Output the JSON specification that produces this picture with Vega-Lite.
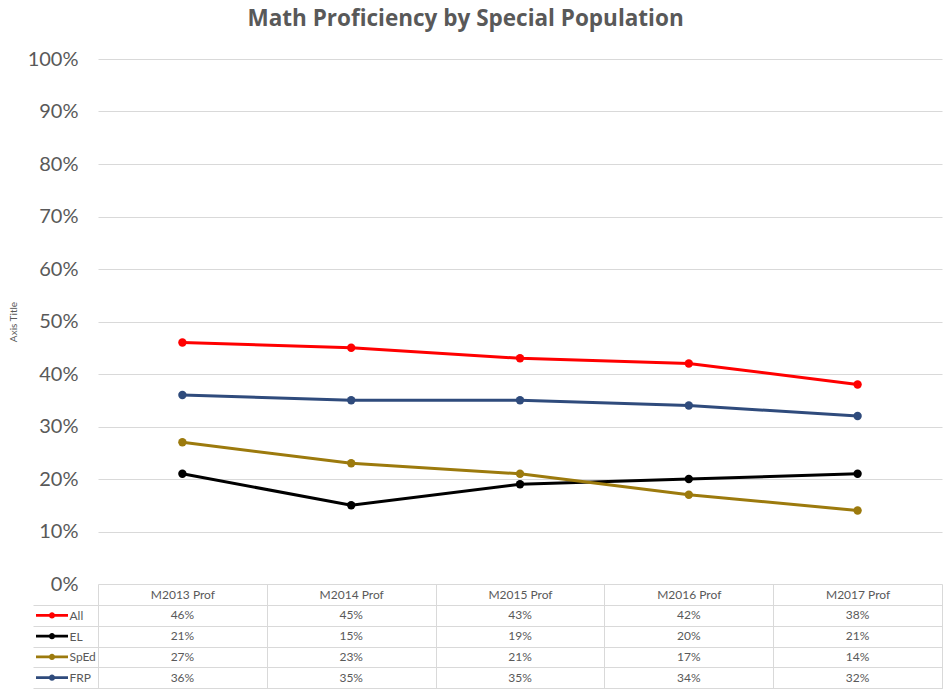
{
  "$schema": "https://vega.github.io/schema/vega-lite/v6.json",
  "padding": {"left": 8, "top": 8, "right": 0, "bottom": 0},
  "background": "white",
  "title": {"text": "Math Proficiency by Special Population", "fontSize": 22.5, "font": "Open Sans", "fontWeight": "bold", "color": "#595959", "anchor": "middle", "frame": "bounds", "offset": 18.5, "dx": -10},
  "config": {"font": "Lato", "view": {"stroke": null}},
  "data": {"values": [
    {"series": "All", "year": "M2013 Prof", "value": 0.46},
    {"series": "All", "year": "M2014 Prof", "value": 0.45},
    {"series": "All", "year": "M2015 Prof", "value": 0.43},
    {"series": "All", "year": "M2016 Prof", "value": 0.42},
    {"series": "All", "year": "M2017 Prof", "value": 0.38},
    {"series": "EL", "year": "M2013 Prof", "value": 0.21},
    {"series": "EL", "year": "M2014 Prof", "value": 0.15},
    {"series": "EL", "year": "M2015 Prof", "value": 0.19},
    {"series": "EL", "year": "M2016 Prof", "value": 0.20},
    {"series": "EL", "year": "M2017 Prof", "value": 0.21},
    {"series": "SpEd", "year": "M2013 Prof", "value": 0.27},
    {"series": "SpEd", "year": "M2014 Prof", "value": 0.23},
    {"series": "SpEd", "year": "M2015 Prof", "value": 0.21},
    {"series": "SpEd", "year": "M2016 Prof", "value": 0.17},
    {"series": "SpEd", "year": "M2017 Prof", "value": 0.14},
    {"series": "FRP", "year": "M2013 Prof", "value": 0.36},
    {"series": "FRP", "year": "M2014 Prof", "value": 0.35},
    {"series": "FRP", "year": "M2015 Prof", "value": 0.35},
    {"series": "FRP", "year": "M2016 Prof", "value": 0.34},
    {"series": "FRP", "year": "M2017 Prof", "value": 0.32}
  ]},
  "spacing": 21,
  "bounds": "flush",
  "resolve": {"scale": {"y": "independent", "x": "shared", "color": "shared"}, "axis": {"x": "independent", "y": "independent"}},
  "vconcat": [
    {
      "width": 844,
      "height": 525,
      "mark": {"type": "line", "strokeWidth": 3, "point": {"filled": true, "size": 70}},
      "encoding": {
        "x": {"field": "year", "type": "nominal", "sort": ["M2013 Prof", "M2014 Prof", "M2015 Prof", "M2016 Prof", "M2017 Prof"], "scale": {"type": "band", "paddingInner": 0, "paddingOuter": 0}, "axis": null},
        "y": {"field": "value", "type": "quantitative", "scale": {"domain": [0, 1], "nice": false},
          "axis": {"values": [0, 0.1, 0.2, 0.3, 0.4, 0.5, 0.6, 0.7, 0.8, 0.9, 1], "format": ".0%", "grid": true, "gridColor": "#d9d9d9", "domain": false, "ticks": false, "labelFontSize": 20, "labelColor": "#595959", "labelPadding": 20, "title": "Axis Title", "titleFontSize": 10, "titleFontWeight": "normal", "titleColor": "#595959", "titlePadding": 9}},
        "color": {"field": "series", "type": "nominal", "scale": {"domain": ["All", "EL", "SpEd", "FRP"], "range": ["#ff0000", "#000000", "#9c7a0d", "#2f4b7c"]}, "legend": null}
      }
    },
    {
      "width": 844,
      "height": 83,
      "view": {"stroke": "#d9d9d9"},
      "encoding": {
        "x": {"field": "year", "type": "nominal", "sort": ["M2013 Prof", "M2014 Prof", "M2015 Prof", "M2016 Prof", "M2017 Prof"], "scale": {"type": "band", "paddingInner": 0, "paddingOuter": 0},
          "axis": {"orient": "top", "title": null, "labelAngle": 0, "labelBaseline": "middle", "labelPadding": -10.5, "tickBand": "extent", "tickSize": 21, "tickColor": "#d9d9d9", "domainColor": "#d9d9d9", "grid": true, "gridColor": "#d9d9d9", "labelFontSize": 12, "labelColor": "#595959"}},
        "y": {"field": "series", "type": "nominal", "sort": ["All", "EL", "SpEd", "FRP"], "scale": {"type": "band", "paddingInner": 0, "paddingOuter": 0},
          "axis": {"title": null, "labelAlign": "left", "labelPadding": -36, "tickBand": "extent", "tickSize": 65, "tickColor": "#d9d9d9", "domainColor": "#d9d9d9", "grid": true, "gridColor": "#d9d9d9", "labelFontSize": 12, "labelColor": "#595959"}}
      },
      "layer": [
        {"mark": {"type": "text", "fontSize": 12, "color": "#595959"}, "encoding": {"text": {"field": "value", "type": "quantitative", "format": ".0%"}}},
        {"transform": [{"filter": "datum.year == 'M2013 Prof'"}],
          "mark": {"type": "point", "shape": "M-1,-0.09H1V0.09H-1Z M0.19,0A0.19,0.19 0 1,1 -0.19,0A0.19,0.19 0 1,1 0.19,0Z", "filled": true, "size": 1024, "xOffset": -46, "strokeWidth": 0, "opacity": 1},
          "encoding": {
            "x": {"field": "year", "type": "nominal", "bandPosition": 0},
            "color": {"field": "series", "type": "nominal", "legend": null}
          }}
      ]
    }
  ]
}
